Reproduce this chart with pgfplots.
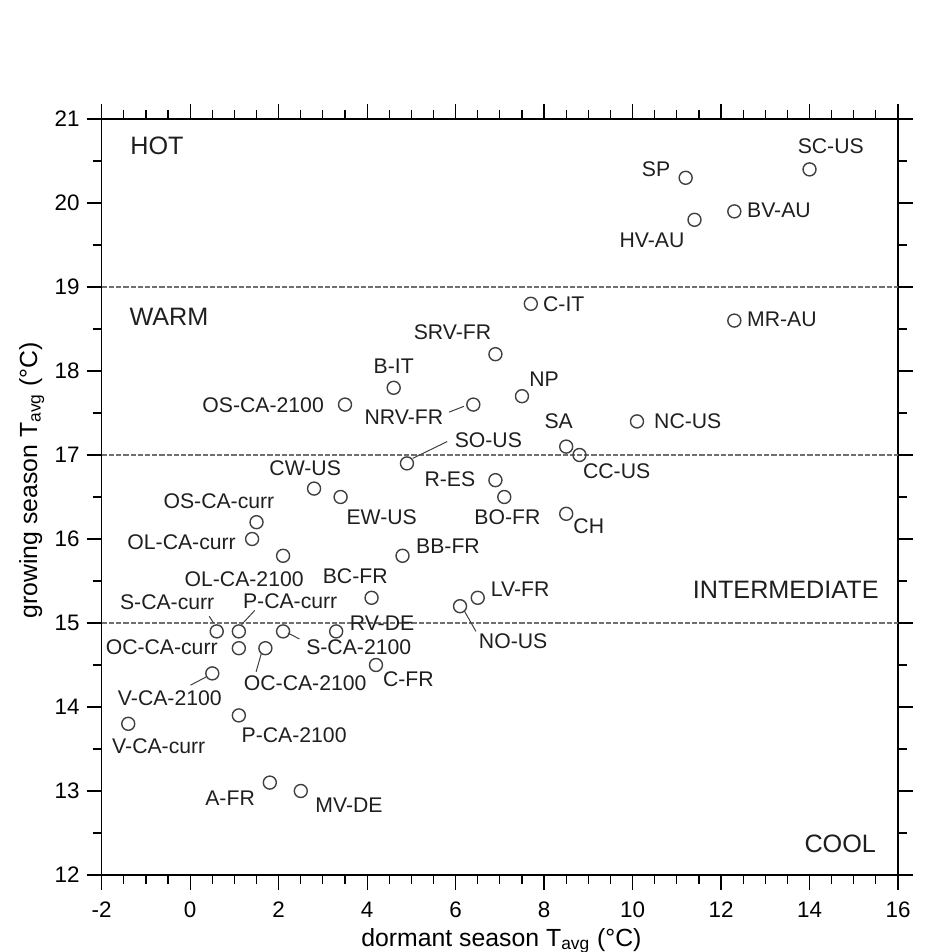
\documentclass[border=0pt]{standalone}
\usepackage{pgfplots}
\pgfplotsset{compat=1.18}
\usepackage{fontspec}
\setmainfont{Liberation Sans}
\definecolor{mk}{HTML}{404040}
\definecolor{dl}{HTML}{707070}
\pgfplotstableread{
x y
11.2 20.3
14.0 20.4
11.4 19.8
12.3 19.9
7.7 18.8
12.3 18.6
6.9 18.2
7.5 17.7
4.6 17.8
3.5 17.6
6.4 17.6
4.9 16.9
10.1 17.4
8.5 17.1
8.8 17.0
6.9 16.7
7.1 16.5
8.5 16.3
2.8 16.6
3.4 16.5
1.5 16.2
1.4 16.0
2.1 15.8
4.8 15.8
4.1 15.3
6.5 15.3
6.1 15.2
0.6 14.9
1.1 14.9
2.1 14.9
3.3 14.9
1.1 14.7
1.7 14.7
4.2 14.5
0.5 14.4
1.1 13.9
-1.4 13.8
1.8 13.1
2.5 13.0
}\sites
\begin{document}
\begin{tikzpicture}[
  lbl/.style={font=\fontsize{10.6}{12}\selectfont, inner sep=0pt, text height=7.6pt, text depth=0pt, text=black!88},
  reg/.style={font=\fontsize{12.6}{14}\selectfont, inner sep=0pt, text height=9pt, text depth=0pt, text=black!88},
  lead/.style={draw=mk, line width=0.5pt}]
\begin{axis}[
  scale only axis, width=398.15pt, height=378pt,
  xmin=-2, xmax=16, ymin=12, ymax=21,
  xtick={-2,0,...,16}, ytick={12,13,...,21},
  minor x tick num=3, minor y tick num=1,
  tick align=outside,
  major tick length=7.5pt, minor tick length=4.5pt,
  axis line style={line width=0.7pt, black},
  every tick/.style={line width=0.6pt, black},
  tick label style={font=\fontsize{11.2}{13}\selectfont},
  xticklabel style={yshift=-2.5pt},
  /pgf/number format/assume math mode=true,
  xlabel={dormant season T\textsubscript{avg} (°C)},
  ylabel={growing season T\textsubscript{avg} (°C)},
  label style={font=\fontsize{12.4}{14}\selectfont},
  xlabel style={at={(axis description cs:0.502,0)}, anchor=base, yshift=-35.5pt},
  ylabel style={at={(axis description cs:-0.088,0.522)}, anchor=center},
  clip=false,
]
\addplot[dl, line width=1pt, dash pattern=on 2.6pt off 1pt] coordinates {(-2,15) (16,15)};
\addplot[dl, line width=1pt, dash pattern=on 2.6pt off 1pt] coordinates {(-2,17) (16,17)};
\addplot[dl, line width=1pt, dash pattern=on 2.6pt off 1pt] coordinates {(-2,19) (16,19)};
\addplot[only marks, mark=o, mark size=3.25pt, mark options={draw=mk, line width=0.7pt, fill=white}] table[x=x, y=y] {\sites};

\draw[lead] (axis cs:5.85,17.51) -- (axis cs:6.19,17.58);
\draw[lead] (axis cs:5.03,16.96) -- (axis cs:5.81,17.16);
\draw[lead] (axis cs:0.43,15.08) -- (axis cs:0.53,15.00);
\draw[lead] (axis cs:1.46,15.15) -- (axis cs:1.16,14.98);
\draw[lead] (axis cs:2.21,14.88) -- (axis cs:2.47,14.81);
\draw[lead] (axis cs:6.19,15.15) -- (axis cs:6.46,14.90);
\draw[lead] (axis cs:1.61,14.64) -- (axis cs:1.49,14.42);
\draw[lead] (axis cs:0.007,14.26) -- (axis cs:0.37,14.36);

\node[reg, anchor=west] at (axis cs:-1.36,20.69) {HOT};
\node[reg, anchor=west] at (axis cs:-1.38,18.65) {WARM};
\node[reg, anchor=east] at (axis cs:15.57,15.40) {INTERMEDIATE};
\node[reg, anchor=east] at (axis cs:15.51,12.37) {COOL};

\node[lbl] at (axis cs:14.48,20.68) {SC-US};
\node[lbl] at (axis cs:10.53,20.40) {SP};
\node[lbl, anchor=west] at (axis cs:12.58,19.92) {BV-AU};
\node[lbl] at (axis cs:10.44,19.56) {HV-AU};
\node[lbl, anchor=west] at (axis cs:7.97,18.80) {C-IT};
\node[lbl, anchor=west] at (axis cs:12.58,18.62) {MR-AU};
\node[lbl] at (axis cs:5.93,18.46) {SRV-FR};
\node[lbl] at (axis cs:8.0,17.91) {NP};
\node[lbl] at (axis cs:4.60,18.06) {B-IT};
\node[lbl, anchor=east] at (axis cs:3.03,17.60) {OS-CA-2100};
\node[lbl] at (axis cs:4.83,17.45) {NRV-FR};
\node[lbl] at (axis cs:6.74,17.18) {SO-US};
\node[lbl, anchor=west] at (axis cs:10.48,17.41) {NC-US};
\node[lbl] at (axis cs:8.33,17.41) {SA};
\node[lbl] at (axis cs:9.64,16.81) {CC-US};
\node[lbl] at (axis cs:5.87,16.71) {R-ES};
\node[lbl] at (axis cs:7.17,16.26) {BO-FR};
\node[lbl] at (axis cs:9.01,16.16) {CH};
\node[lbl] at (axis cs:2.60,16.85) {CW-US};
\node[lbl] at (axis cs:4.33,16.26) {EW-US};
\node[lbl] at (axis cs:0.65,16.45) {OS-CA-curr};
\node[lbl, anchor=east] at (axis cs:1.04,15.97) {OL-CA-curr};
\node[lbl, anchor=west] at (axis cs:5.10,15.92) {BB-FR};
\node[lbl] at (axis cs:1.22,15.52) {OL-CA-2100};
\node[lbl] at (axis cs:3.73,15.56) {BC-FR};
\node[lbl, anchor=west] at (axis cs:6.79,15.41) {LV-FR};
\node[lbl] at (axis cs:7.30,14.79) {NO-US};
\node[lbl] at (axis cs:-0.52,15.25) {S-CA-curr};
\node[lbl] at (axis cs:2.26,15.26) {P-CA-curr};
\node[lbl, anchor=west] at (axis cs:3.60,15.00) {RV-DE};
\node[lbl] at (axis cs:3.81,14.71) {S-CA-2100};
\node[lbl, anchor=east] at (axis cs:0.63,14.71) {OC-CA-curr};
\node[lbl] at (axis cs:2.60,14.29) {OC-CA-2100};
\node[lbl, anchor=west] at (axis cs:4.35,14.33) {C-FR};
\node[lbl] at (axis cs:-0.46,14.11) {V-CA-2100};
\node[lbl] at (axis cs:-0.71,13.54) {V-CA-curr};
\node[lbl] at (axis cs:2.35,13.67) {P-CA-2100};
\node[lbl, anchor=east] at (axis cs:1.47,12.92) {A-FR};
\node[lbl] at (axis cs:3.59,12.84) {MV-DE};
\end{axis}
\pgfresetboundingbox
\useasboundingbox (-50.85pt,-38.5pt) rectangle (421.15pt,437.5pt);
\end{tikzpicture}
\end{document}
